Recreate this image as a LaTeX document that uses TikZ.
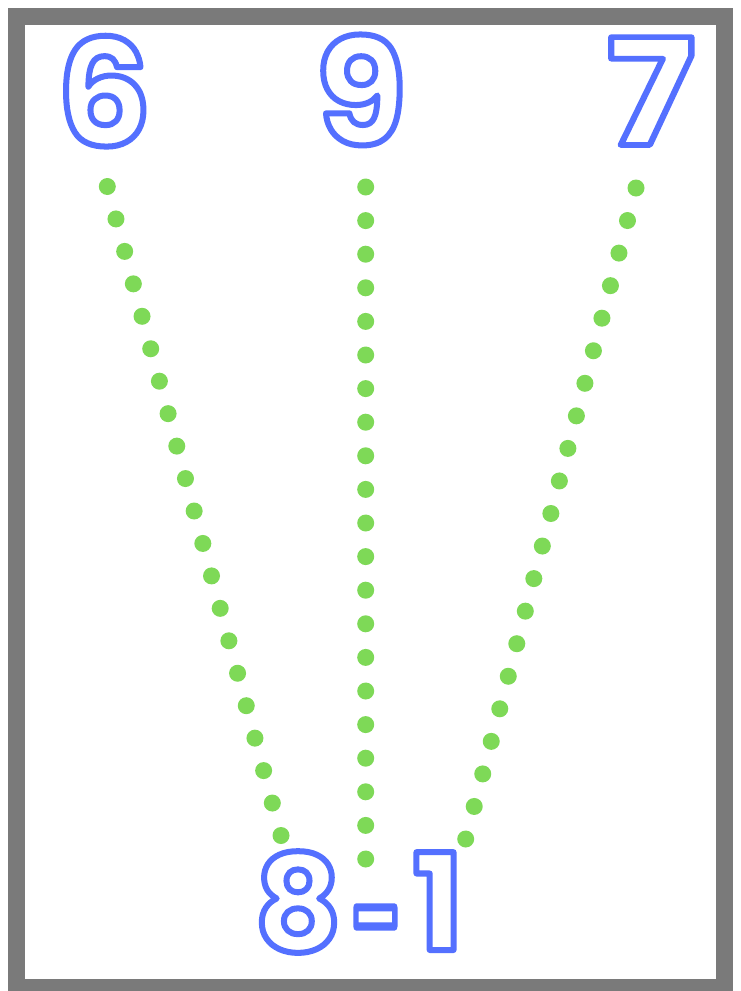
\documentclass[tikz,border=0pt]{standalone}
\usepackage{fontspec}
\usetikzlibrary{calc}
\newfontfamily\digitfont{Poppins}
\definecolor{digitblue}{RGB}{84,112,255}
\definecolor{dotgreen}{RGB}{126,217,87}
\definecolor{framegray}{RGB}{122,122,122}
\newcommand{\outlinetext}[2][6]{\special{pdf:literal direct 1 Tr #1 w 1 j}#2\special{pdf:literal direct 0 Tr}}
\tikzset{
  bigdigit/.style={inner sep=0pt, anchor=base, text=digitblue, font=\digitfont\bfseries\fontsize{148}{148}\selectfont},
  smalldigit/.style={inner sep=0pt, anchor=base, text=digitblue, font=\digitfont\bfseries\fontsize{134}{134}\selectfont},
  greendot/.style={fill=dotgreen},
  frame/.style={draw=framegray, line width=17pt}
}
\begin{document}
\begin{tikzpicture}[x=1pt,y=-1pt]
\useasboundingbox (0,0) rectangle (740,991);
\fill[white] (0,0) rectangle (740,991);
\draw[frame] (16.5,16.5) rectangle (724.5,987.5);
\node[bigdigit] (six) at (104,146) {\outlinetext{6}};
\node[bigdigit] (nine) at (361,145) {\outlinetext{9}};
\node[bigdigit] (seven) at (651,145) {\scalebox{1.12}[1]{\outlinetext[5.6]{7}}};
\node[smalldigit] (eight) at (298,951) {\outlinetext{8}};
\node[smalldigit] (dash) at (377,964) {\scalebox{0.66}[1]{\outlinetext[8]{-}}};
\node[smalldigit] (one) at (438,950) {\outlinetext{1}};
\coordinate (l0) at (107.3,186.5);
\coordinate (l1) at (281,835.5);
\coordinate (m0) at (365.7,187);
\coordinate (m1) at (365.7,859);
\coordinate (r0) at (636,188);
\coordinate (r1) at (465.7,839);
\foreach \a/\b in {l0/l1,m0/m1,r0/r1}{
  \foreach \i in {0,...,20}{
    \fill[greendot] ($(\a)!\i/20!(\b)$) circle (8.5);
  }
}
\end{tikzpicture}
\end{document}
